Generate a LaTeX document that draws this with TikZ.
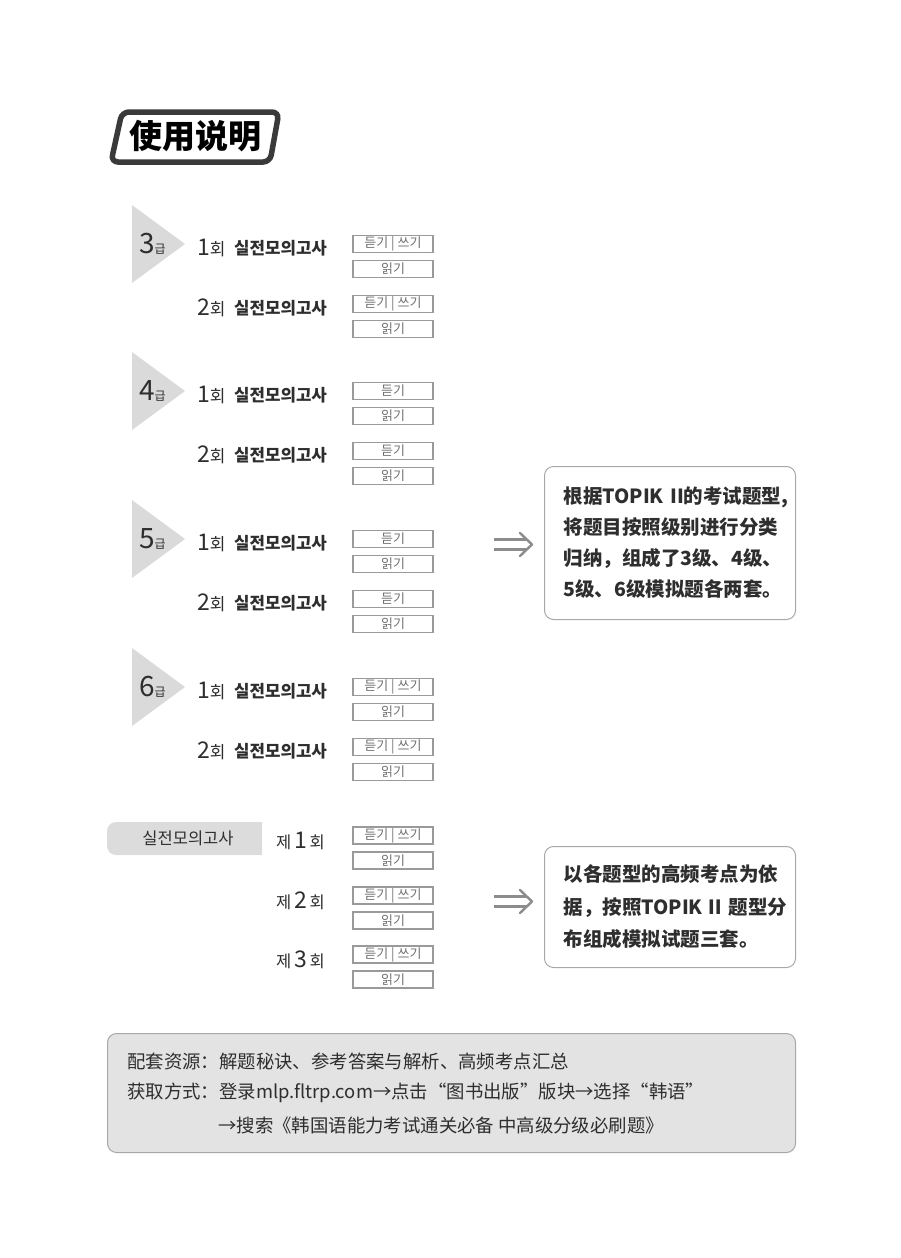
\documentclass[tikz,border=0pt]{standalone}
\usepackage{fontspec}
\usepackage{xcolor}
\usepackage{tikz}
\usetikzlibrary{positioning, arrows.meta}
\setmainfont{Noto Sans CJK SC}
\newfontfamily\krfont{Noto Sans CJK KR}
\definecolor{inkgray}{HTML}{2E2E2E}
\definecolor{trigray}{HTML}{DADADA}
\definecolor{boxborder}{HTML}{9A9A9A}
\definecolor{labelgray}{HTML}{707070}
\definecolor{panelfill}{HTML}{E3E3E3}
\definecolor{panelborder}{HTML}{A8A8A8}
\definecolor{titleborder}{HTML}{3A3A3A}
\definecolor{arrowgray}{HTML}{8C8C8C}
\definecolor{tabgray}{HTML}{DCDCDC}

\tikzset{
    partbox/.style={draw=boxborder, line width=1.3pt, minimum width=80pt,
        minimum height=17pt, inner sep=0pt, text=labelgray,
        font=\krfont\fontsize{13}{13}\selectfont},
    roundno/.style={anchor=west, inner sep=0pt, text=inkgray,
        font=\krfont\fontsize{17}{17}\selectfont},
    examname/.style={anchor=west, inner sep=0pt, text=inkgray,
        font=\krfont\fontsize{16.8}{17}\selectfont\bfseries},
    notebox/.style={draw=panelborder, line width=1pt, rounded corners=9pt,
        anchor=north west, minimum width=251pt, inner xsep=19pt,
        text width=213pt, align=left, text=inkgray},
    panelline/.style={anchor=west, inner sep=0pt, text=inkgray,
        font=\fontsize{18.4}{19}\selectfont},
    implies/.style={draw=arrowgray, line width=2.4pt}
}

\begin{document}
\begin{tikzpicture}[x=1pt, y=-1pt]
    \useasboundingbox (0,0) rectangle (900,1258);

    % title
    \draw[titleborder, line width=5.5pt, rounded corners=7pt]
        (122,112) -- (279,112) -- (270,162) -- (111,162) -- cycle;
    \node[text=black, font=\fontsize{33}{33}\selectfont\bfseries] (title) at (195,136) {使用说明};

    % levels
    \foreach \lv/\yy/\lis in {3/244/듣기 | 쓰기, 4/391/듣기, 5/539/듣기, 6/687/듣기 | 쓰기}{
        \fill[trigray] (132,\yy-39) -- (185,\yy) -- (132,\yy+39) -- cycle;
        \node[anchor=base west, inner sep=0pt, text=inkgray, font=\krfont] (lv\lv) at (139,\yy+9)
            {\fontsize{28}{28}\selectfont\lv\fontsize{12}{12}\selectfont 급};
        \node[roundno] (no\lv a) at (197,\yy+4) {{\fontsize{23}{23}\selectfont 1}회};
        \node[examname] (ex\lv a) at (234,\yy+4) {실전모의고사};
        \node[partbox] (ls\lv a) at (393,\yy) {\lis};
        \node[partbox] (rd\lv a) at (393,\yy+25) {읽기};
        \node[roundno] (no\lv b) at (197,\yy+64) {{\fontsize{23}{23}\selectfont 2}회};
        \node[examname] (ex\lv b) at (234,\yy+64) {실전모의고사};
        \node[partbox] (ls\lv b) at (393,\yy+60) {\lis};
        \node[partbox] (rd\lv b) at (393,\yy+85) {읽기};
    }

    \node[notebox, minimum height=153pt, font=\fontsize{19.5}{31}\selectfont\bfseries] (noteA) at (544,466)
        {根据TOPIK~II的考试题型,\\将题目按照级别进行分类\\归纳，组成了3级、4级、\\5级、6级模拟题各两套。};
    \coordinate (arrA) at ([xshift=-50pt, yshift=-1.5pt]noteA.west);
    \draw[implies] ([yshift=5pt]arrA) -- ([xshift=-17pt, yshift=3.5pt]noteA.west);
    \draw[implies] ([yshift=-5pt]arrA) -- ([xshift=-17pt, yshift=-6.5pt]noteA.west);
    \draw[implies, line cap=round, line join=round] ([xshift=-24pt, yshift=10pt]noteA.west)
        -- ([xshift=-12pt, yshift=-1.5pt]noteA.west) -- ([xshift=-24pt, yshift=-13pt]noteA.west);

    % mock tests
    \path[fill=tabgray] (262,822) [rounded corners=9pt] -- (107,822) -- (107,855)
        [sharp corners] -- (262,855) -- cycle;
    \node[text=inkgray, font=\krfont\fontsize{16.5}{17}\selectfont] (tab) at (188,838) {실전모의고사};
    \foreach \n/\yy in {1/841, 2/901, 3/960}{
        \node[roundno, font=\krfont\fontsize{16.5}{17}\selectfont] (mk\n) at (276,\yy)
            {제\,{\fontsize{23}{23}\selectfont\n}\,회};
        \node[partbox] (mkls\n) at (393,\yy-5.5) {듣기 | 쓰기};
        \node[partbox] (mkrd\n) at (393,\yy+19.5) {읽기};
    }

    \node[notebox, minimum height=121pt, font=\fontsize{19.5}{32.5}\selectfont\bfseries] (noteB) at (544,846)
        {以各题型的高频考点为依\\据，按照TOPIK\,Ⅱ\,题型分\\布组成模拟试题三套。};
    \coordinate (arrB) at ([xshift=-50pt, yshift=5.5pt]noteB.west);
    \draw[implies] ([yshift=5pt]arrB) -- ([xshift=-17pt, yshift=10.5pt]noteB.west);
    \draw[implies] ([yshift=-5pt]arrB) -- ([xshift=-17pt, yshift=0.5pt]noteB.west);
    \draw[implies, line cap=round, line join=round] ([xshift=-24pt, yshift=17pt]noteB.west)
        -- ([xshift=-12pt, yshift=5.5pt]noteB.west) -- ([xshift=-24pt, yshift=-6pt]noteB.west);

    % resources
    \node[draw=panelborder, fill=panelfill, line width=1pt, rounded corners=9pt, anchor=north west,
          minimum width=688pt, minimum height=119pt] (panel) at (107,1033) {};
    \node[panelline] (res1) at (127,1061) {配套资源：解题秘诀、参考答案与解析、高频考点汇总};
    \node[panelline] (res2) at (127,1093) {获取方式：登录mlp.fltrp.com→点击“图书出版”版块→选择“韩语”};
    \node[panelline] (res3) at (218,1125) {→搜索《韩国语能力考试通关必备 中高级分级必刷题》};
\end{tikzpicture}
\end{document}
